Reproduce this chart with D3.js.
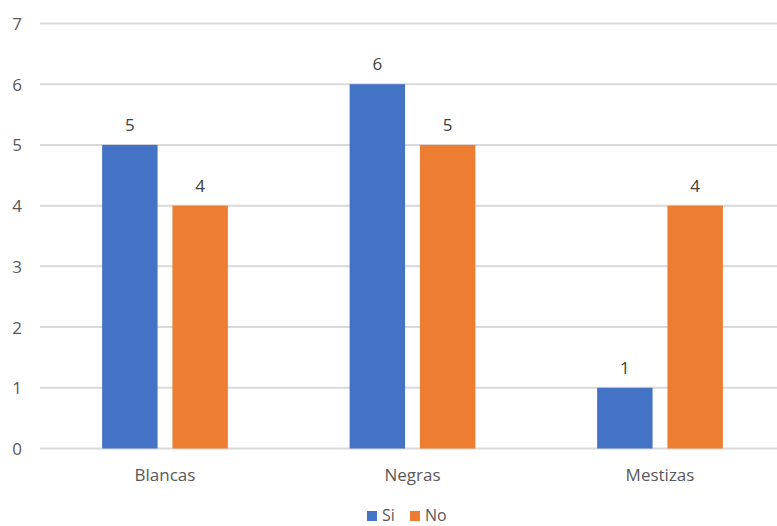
<!DOCTYPE html>
<html><head><meta charset="utf-8">
<script src="https://cdn.jsdelivr.net/npm/d3@7"></script>
<style>body{margin:0;background:#fff;overflow:hidden}svg{display:block}text{font-family:"Open Sans","Noto Sans",sans-serif}</style>
</head><body>
<svg id="c" width="777" height="526"></svg>
<script>
const categories = ["Blancas","Negras","Mestizas"];
const seriesNames = ["Si","No"];
const siValues = [5,6,1];
const noValues = [4,5,4];
const yTicks = [0,1,2,3,4,5,6,7];
const colors = ["#4472C4","#ED7D31"];

const svg = d3.select("#c");
const plotLeft = 41.25, plotRight = 783.75, plotTop = 23.5, plotBottom = 448.5;
const x = d3.scaleBand().domain(categories).range([plotLeft,plotRight]).paddingInner(0).paddingOuter(0);
const y = d3.scaleLinear().domain([0,7]).range([plotBottom,plotTop]);
const bw = x.bandwidth();
const barW = bw*0.224, gap = bw*0.06;
const x1 = d3.scaleBand().domain(seriesNames).range([(bw-2*barW-gap)/2,(bw+2*barW+gap)/2]).paddingInner(gap/(barW+gap)).paddingOuter(0);

// gridlines
svg.append("g").selectAll("line").data(yTicks).join("line")
  .attr("x1",40).attr("x2",plotRight).attr("y1",d=>y(d)).attr("y2",d=>y(d))
  .attr("stroke","#d9d9d9").attr("stroke-width",2);

// y axis labels
const yAxis = d3.axisLeft(y).tickValues(yTicks).tickFormat(d3.format("d")).tickSize(0).tickPadding(0);
const ga = svg.append("g").attr("transform","translate(22,0)").call(yAxis);
ga.select(".domain").remove();
ga.selectAll("text").attr("fill","#595959").style("font-size","17px").attr("dy","0.35em");

const data = categories.map((c,i)=>({c, vals:[{s:"Si",v:siValues[i]},{s:"No",v:noValues[i]}]}));
const g = svg.append("g").selectAll("g").data(data).join("g").attr("transform",d=>`translate(${x(d.c)},0)`);
g.selectAll("rect").data(d=>d.vals).join("rect")
  .attr("x",d=>x1(d.s)).attr("width",x1.bandwidth())
  .attr("y",d=>y(d.v)).attr("height",d=>y(0)-y(d.v))
  .attr("fill",(d,i)=>colors[i]);
g.selectAll("text").data(d=>d.vals).join("text")
  .attr("x",d=>x1(d.s)+x1.bandwidth()/2).attr("y",d=>y(d.v)-14)
  .attr("text-anchor","middle").attr("fill","#404040").style("font-size","17px").text(d=>d.v);

// x axis labels
const xAxis = d3.axisBottom(x).tickSize(0).tickPadding(0);
const gx = svg.append("g").attr("transform",`translate(0,${plotBottom})`).call(xAxis);
gx.select(".domain").remove();
gx.selectAll("text").attr("fill","#595959").style("font-size","17px").attr("dy",null).attr("y",32.5);

// legend
const leg = svg.append("g");
const legX = [367, 410];
seriesNames.forEach((s,i)=>{
  leg.append("rect").attr("x",legX[i]).attr("y",511).attr("width",10).attr("height",10).attr("fill",colors[i]);
  leg.append("text").attr("x",legX[i]+15).attr("y",521).attr("fill","#595959").style("font-size","16px").text(s);
});
</script>
</body></html>
